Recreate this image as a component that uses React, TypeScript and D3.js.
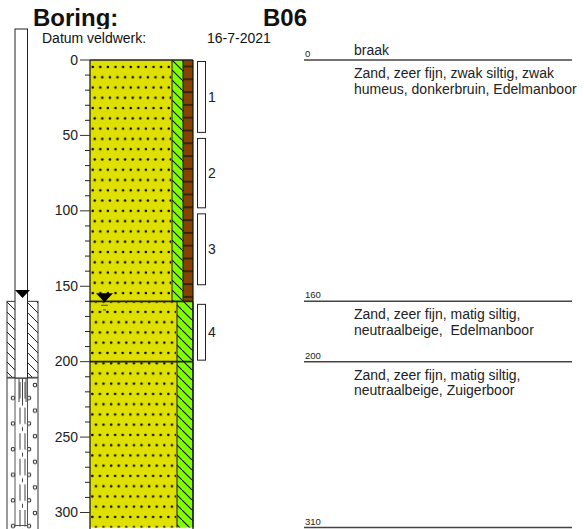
import React from "react";
import * as d3 from "d3";

const depthTicks = [0, 50, 100, 150, 200, 250, 300];
const minorTicks = [10, 20, 30, 40, 60, 70, 80, 90, 110, 120, 130, 140, 160, 170, 180, 190, 210, 220, 230, 240, 260, 270, 280, 290];
const layerTops = [0, 160, 200];
const layerBottoms = [160, 200, 310];
const layerDepthLabels = ["0", "160", "200", "310"];
const layerDescriptions = [
  ["Zand, zeer fijn, zwak siltig, zwak", "humeus, donkerbruin, Edelmanboor"],
  ["Zand, zeer fijn, matig siltig,", "neutraalbeige,  Edelmanboor"],
  ["Zand, zeer fijn, matig siltig,", "neutraalbeige, Zuigerboor"],
];
const layerSplit = [172, 177, 177];
const layerHumus = [true, false, false];
const layerDots = ["dots1", "dots2", "dots2"];
const samples = [
  { from: 1, to: 48, label: "1" },
  { from: 52, to: 98, label: "2" },
  { from: 102, to: 149, label: "3" },
  { from: 162, to: 199, label: "4" },
];
const waterLevel = 160;

const font = "Liberation Sans, Arial, sans-serif";

export default function App() {
  const y = d3.scaleLinear().domain([0, 300]).range([60, 512.5]);
  return (
    <svg width={584} height={529} style={{ position: "absolute", left: 0, top: 0 }} fontFamily={font}>
      <defs>
        <clipPath id="titleClip"><rect x={0} y={0} width={260} height={29} /></clipPath>
        <pattern id="dots1" patternUnits="userSpaceOnUse" width={7.6} height={20.56} x={90} y={64}>
          <circle cx={2.7} cy={3} r={1.25} fill="#000" />
          <circle cx={4.7} cy={13.28} r={1.25} fill="#000" />
        </pattern>
        <pattern id="dots2" patternUnits="userSpaceOnUse" width={7.6} height={20.5} x={90} y={309}>
          <circle cx={2.3} cy={3} r={1.25} fill="#000" />
          <circle cx={5.9} cy={13.25} r={1.25} fill="#000" />
        </pattern>
        <pattern id="hatchGreen" patternUnits="userSpaceOnUse" width={10} height={10} patternTransform="translate(172 60)">
          <rect width={10} height={10} fill="#80ff00" />
          <path d="M-2,-2 L12,12" stroke="#111" strokeWidth={1.1} />
        </pattern>
        <pattern id="hatchWhite" patternUnits="userSpaceOnUse" width={10} height={10} patternTransform="translate(7 302)">
          <path d="M-2,-2 L12,12" stroke="#222" strokeWidth={1} />
        </pattern>
        <pattern id="brick" patternUnits="userSpaceOnUse" width={11} height={12.8} patternTransform="translate(183 65.5)">
          <rect width={11} height={12.8} fill="#864200" />
          <path d="M0,1 H11" stroke="#111" strokeWidth={1.3} />
        </pattern>
        <pattern id="filter" patternUnits="userSpaceOnUse" width={40} height={25.6} patternTransform="translate(0 381)">
          <circle cx={35} cy={4} r={1.8} fill="#fff" stroke="#222" strokeWidth={1} />
          <circle cx={13} cy={17} r={1.8} fill="#fff" stroke="#222" strokeWidth={1} />
          <circle cx={29} cy={17} r={1.8} fill="#fff" stroke="#222" strokeWidth={1} />
          <path d="M20,0.9 V17.5 M25,0.9 V17.5 M22.5,20.4 V24.4" stroke="#444" strokeWidth={1} />
        </pattern>
      </defs>

      {/* Well */}
      <rect x={7} y={y(160)} width={31} height={76} fill="url(#hatchWhite)" stroke="#333" strokeWidth={1} />
      <rect x={7} y={378} width={31} height={152} fill="#fff" stroke="#555" strokeWidth={1.2} />
      <rect x={8} y={379} width={29} height={150} fill="url(#filter)" />
      <rect x={15} y={29} width={12.5} height={349} fill="#fff" stroke="#222" strokeWidth={1} />
      <path d="M19,378 V402 M22.5,378 V402 M26,378 V402" stroke="#444" strokeWidth={1} fill="none" />
      <path d="M15,378 V527 M27.5,378 V527 M15,525.5 H27.5" fill="none" stroke="#555" strokeWidth={1} />
      <path d="M15,290 H30 L22.5,298 Z" fill="#000" />

      {/* Titles */}
      <text x={33} y={26} fontSize={24} fontWeight={700} fill="#111" clipPath="url(#titleClip)">Boring:</text>
      <text x={263} y={26} fontSize={24} fontWeight={700} fill="#111">B06</text>
      <text x={42} y={43} fontSize={14} fill="#111">Datum</text>
      <text x={87} y={43} fontSize={14} fill="#111">veldwerk:</text>
      <text x={207} y={43} fontSize={14} fill="#111">16-7-2021</text>

      {/* Layers */}
      {layerTops.map((top, i) => {
        const y0 = y(top);
        const y1 = Math.min(y(layerBottoms[i]), 529);
        const split = layerSplit[i];
        const right = layerHumus[i] ? 183 : 193;
        return (
          <g key={top}>
            <rect x={90} y={y0} width={split - 90} height={y1 - y0} fill="#dfdf00" />
            <rect x={91} y={y0} width={split - 92} height={y1 - y0} fill={`url(#${layerDots[i]})`} />
            <rect x={split} y={y0} width={right - split} height={y1 - y0} fill="url(#hatchGreen)" />
            {layerHumus[i] && <rect x={183} y={y0} width={10} height={y1 - y0} fill="url(#brick)" />}
            <path d={`M${split},${y0} V${y1} M${right},${y0} V${y1}`} stroke="#111" strokeWidth={1} fill="none" />
            <path d={`M90,${y0} H193`} stroke="#222" strokeWidth={1.6} fill="none" />
          </g>
        );
      })}
      <path d="M90,60 V529 M193,60 V529" stroke="#111" strokeWidth={1.2} fill="none" />

      {/* Axis */}
      {minorTicks.map((t) => (
        <path key={t} d={`M85,${y(t)} H90`} stroke="#222" strokeWidth={1} />
      ))}
      {depthTicks.map((t) => (
        <g key={t}>
          <path d={`M80,${y(t)} H90`} stroke="#333" strokeWidth={1} />
          <text x={78} y={y(t) + 4.5} fontSize={14} textAnchor="end" fill="#222">{t}</text>
        </g>
      ))}

      {/* Water level marker */}
      <path d={`M96,${y(waterLevel) - 8} H113 L104.5,${y(waterLevel) + 1} Z`} fill="#000" />
      <path d={`M101,${y(waterLevel) + 4} H108 M103,${y(waterLevel) + 8.5} H106`} stroke="#666" strokeWidth={1.2} />

      {/* Samples */}
      {samples.map((s) => (
        <g key={s.label}>
          <rect x={197.5} y={y(s.from)} width={8} height={y(s.to) - y(s.from)} fill="#fff" stroke="#222" strokeWidth={1} />
          <text x={208} y={(y(s.from) + y(s.to)) / 2 + 5} fontSize={14} fill="#222">{s.label}</text>
        </g>
      ))}

      {/* Descriptions */}
      <text x={354} y={55} fontSize={14} fill="#222">braak</text>
      {[0, 160, 200, 310].map((d, i) => (
        <g key={d}>
          <path d={`M304,${y(d)} H572`} stroke="#444" strokeWidth={1.5} />
          <text x={305} y={y(d) - 3} fontSize={9.5} fill="#222">{layerDepthLabels[i]}</text>
        </g>
      ))}
      {layerDescriptions.map((lines, i) =>
        lines.map((line, j) => (
          <text key={j + "-" + i} x={354} y={y(layerTops[i]) + 18 + j * 15.5} fontSize={14} fill="#222" style={{ whiteSpace: "pre" }}>{line}</text>
        ))
      )}
    </svg>
  );
}
